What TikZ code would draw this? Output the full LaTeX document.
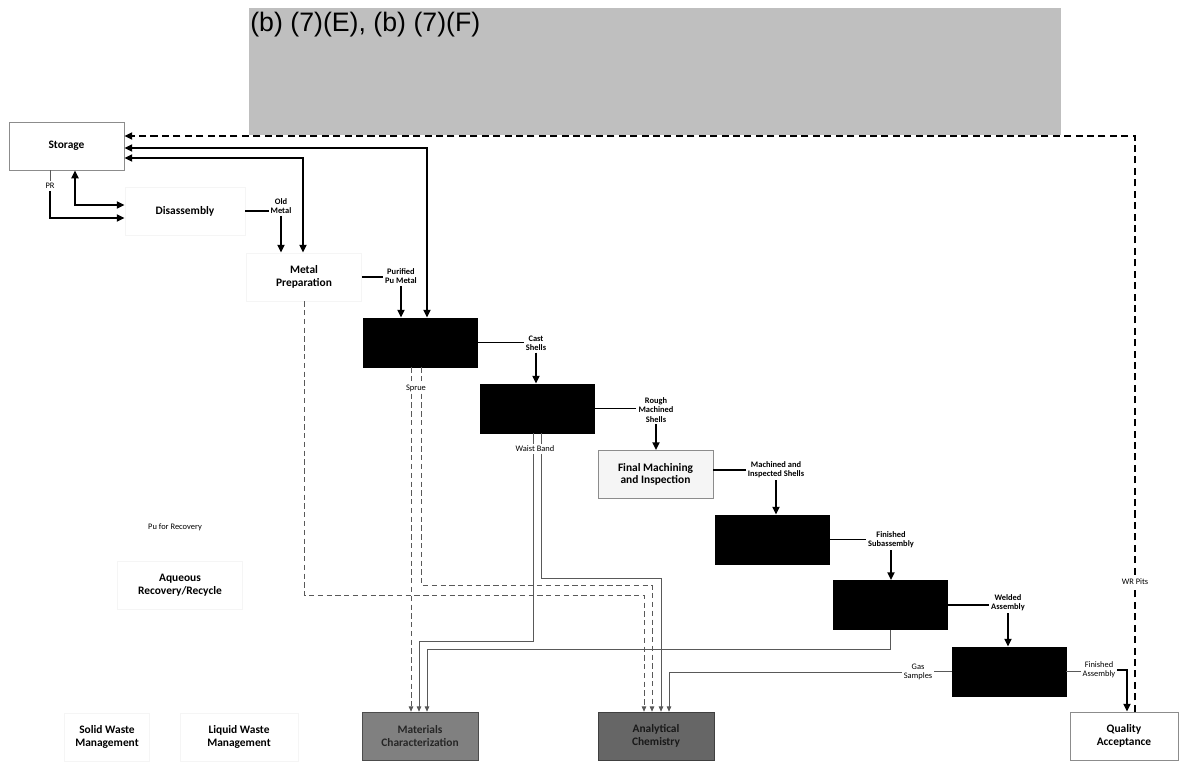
\documentclass[tikz,border=0pt]{standalone}
\usepackage{fontspec}
\setmainfont{Carlito}
\newfontfamily\hdrfont{Liberation Sans}
\usetikzlibrary{arrows.meta}

\begin{document}
\begin{tikzpicture}[x=0.02cm,y=-0.02cm,
 >={Triangle[length=4.5pt,width=4pt]},
 pbox/.style={draw=black!45,fill=white,minimum width=2.3cm,minimum height=0.96cm,align=center,font=\fontsize{6.5}{7.2}\selectfont\bfseries},
 ghost/.style={pbox,draw=black!4},
 blk/.style={draw=black,fill=black,minimum width=2.28cm,minimum height=0.98cm},
 lab/.style={align=center,inner sep=1pt,font=\fontsize{4.8}{5.3}\selectfont\bfseries},
 tag/.style={align=center,inner sep=1pt,fill=white,font=\fontsize{4.8}{5.3}\selectfont},
 flow/.style={line width=1.1pt},
 thinl/.style={line width=0.45pt,black!65,>={Triangle[length=3pt,width=2.6pt]}},
 dsh/.style={thinl,dash pattern=on 3pt off 2pt}]

 \useasboundingbox (0,0) rectangle (1179,762);
 \fill[black!25] (249,8) rectangle (1061,135);
 \node[anchor=north west,inner sep=0pt,font=\hdrfont\fontsize{15.2}{17}\selectfont] (hdr) at (250,12) {(b) (7)(E), (b) (7)(F)};

 \node[pbox] (stor) at (66.5,146) {Storage};
 \node[ghost,minimum width=2.4cm] (dis) at (185,211) {Disassembly};
 \node[ghost] (mp) at (304,277) {Metal\\Preparation};
 \node[blk] (c1) at (420,342.5) {};
 \node[blk] (c2) at (537,408.5) {};
 \node[pbox,fill=black!4] (fmi) at (655.5,474.5) {Final Machining\\and Inspection};
 \node[blk] (c3) at (772.5,539.5) {};
 \node[blk] (c4) at (890.5,605) {};
 \node[blk] (c5) at (1009,671.5) {};
 \node[pbox,minimum width=2.16cm] (qa) at (1124,736) {Quality\\Acceptance};
 \node[pbox,draw=black!70,fill=black!50,text=black!85,minimum width=2.32cm] (matc) at (420,736) {Materials\\Characterization};
 \node[pbox,draw=black!75,fill=black!60,text=black!90,minimum width=2.32cm] (anal) at (656,736) {Analytical\\Chemistry};
 \node[ghost,minimum width=2.5cm] (aq) at (180,585) {Aqueous\\Recovery/Recycle};
 \node[ghost,minimum width=1.7cm] (sw) at (107,737) {Solid Waste\\Management};
 \node[ghost,minimum width=2.36cm] (lw) at (239,737) {Liquid Waste\\Management};

 \node[tag] (pr) at (50,186) {PR};
 \node[lab] (om) at (281,206) {Old\\Metal};
 \node[lab] (ppm) at (401,276) {Purified\\Pu Metal};
 \node[lab] (cs) at (536,343) {Cast\\Shells};
 \node[lab] (rms) at (656,410) {Rough\\Machined\\Shells};
 \node[lab] (mis) at (776,470) {Machined and\\Inspected Shells};
 \node[lab] (fsa) at (891,540) {Finished\\Subassembly};
 \node[lab] (wa) at (1008,603) {Welded\\Assembly};
 \node[tag] (fa) at (1099,670) {Finished\\Assembly};
 \node[tag] (gs) at (918,672) {Gas\\Samples};
 \node[tag] (pfr) at (175,527) {Pu for Recovery};

 \draw[flow,<->] (stor.east |- 0,148) -| (c1.north -| 427,0);
 \draw[flow,<->] (stor.east |- 0,158) -| (mp.north -| 303,0);
 \draw[flow,->,dash pattern=on 4pt off 2.5pt] (qa.north -| 1135,0) |- (stor.east |- 0,136);
 \draw[thinl] (stor.south -| 50,0) -- (pr.north);
 \draw[flow,->] (pr.south) |- (dis.west |- 0,218);
 \draw[flow,<->] (stor.south -| 75,0) |- (dis.west |- 0,205);
 \draw[flow] (dis.east) -- (dis.east -| om.west);
 \draw[flow,->] (om.south) -- (om.south |- mp.north);
 \draw[flow] (mp.east) -- (mp.east -| ppm.west);
 \draw[flow,->] (ppm.south) -- (ppm.south |- c1.north);
 \draw[flow] (c1.east) -- (c1.east -| cs.west);
 \draw[flow,->] (cs.south) -- (cs.south |- c2.north);
 \draw[flow] (c2.east) -- (c2.east -| rms.west);
 \draw[flow,->] (rms.south) -- (rms.south |- fmi.north);
 \draw[flow] (fmi.east |- 0,470) -- (mis.west);
 \draw[flow,->] (mis.south) -- (mis.south |- c3.north);
 \draw[flow] (c3.east) -- (c3.east -| fsa.west);
 \draw[flow,->] (fsa.south) -- (fsa.south |- c4.north);
 \draw[flow] (c4.east) -- (c4.east -| wa.west);
 \draw[flow,->] (wa.south) -- (wa.south |- c5.north);
 \draw[thinl] (c5.east) -- (c5.east -| fa.west);
 \draw[flow,->] (fa.east) -| (qa.north -| 1127,0);

 \draw[dsh,->] (c1.south -| 411,0) -- (matc.north -| 411,0);
 \draw[dsh,->] (c1.south -| 421,0) |- (652,585) -- (anal.north -| 652,0);
 \draw[dsh,->] (mp.south) |- (644,595) -- (anal.north -| 644,0);
 \draw[thinl,->] (c2.south -| 533,0) |- (419,641) -- (matc.north -| 419,0);
 \draw[thinl,->] (c2.south -| 541,0) |- (661,578) -- (anal.north -| 661,0);
 \draw[thinl,->] (c4.south) |- (427,649) -- (matc.north -| 427,0);
 \draw[thinl] (c5.west) -- (c5.west -| gs.east);
 \draw[thinl,->] (gs.west) -| (anal.north -| 669,0);

 \node[tag] (spr) at (416,388) {Sprue};
 \node[tag] (wb) at (535,449) {Waist Band};
 \node[tag] (wr) at (1135,582) {WR Pits};
\end{tikzpicture}
\end{document}
